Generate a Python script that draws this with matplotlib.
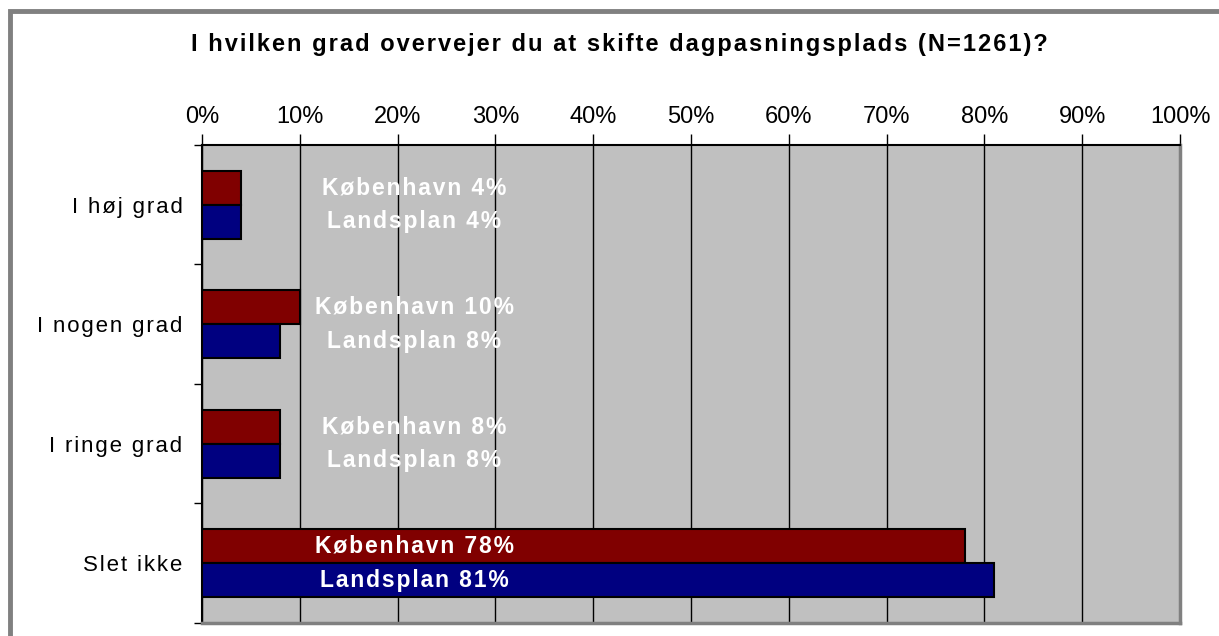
import matplotlib
matplotlib.use("Agg")
import numpy as np
import matplotlib.pyplot as plt
from matplotlib.patches import Rectangle

# data
categories = ["I høj grad", "I nogen grad", "I ringe grad", "Slet ikke"]
kbh = [4, 10, 8, 78]
lands = [4, 8, 8, 81]
title = "I hvilken grad overvejer du at skifte dagpasningsplads (N=1261)?"
tick_labels = [f"{v}%" for v in range(0, 101, 10)]

FONT = ['Liberation Sans', 'DejaVu Sans']
plt.rcParams['font.family'] = FONT

def spaced(s, sep='\u200a'):
    # fake the letter spacing of the original
    return sep.join(s)

fig = plt.figure(figsize=(12.19, 6.36), dpi=100)
ax = fig.add_axes([202/1219, 1-623/636, 978/1219, 478/636])
ax.set_facecolor('#c0c0c0')

y = np.arange(len(categories))
h = 0.283
ax.barh(y - h/2, kbh, height=h, color='#800000', edgecolor='black', linewidth=1.5, zorder=3)
ax.barh(y + h/2, lands, height=h, color='#000080', edgecolor='black', linewidth=1.5, zorder=3)

for i in range(len(categories)):
    ax.text(21.7, y[i] - h/2, spaced(f"København {kbh[i]}%"), color='white', fontsize=16.5,
            fontweight='bold', ha='center', va='center', zorder=4)
    ax.text(21.7, y[i] + h/2, spaced(f"Landsplan {lands[i]}%"), color='white', fontsize=16.5,
            fontweight='bold', ha='center', va='center', zorder=4)

ax.set_xlim(0, 100)
ax.set_ylim(3.5, -0.5)
ax.set_xticks(range(0, 101, 10))
ax.set_xticklabels(tick_labels, fontsize=17)
ax.xaxis.tick_top()
ax.tick_params(axis='x', length=8, width=1, pad=4, colors='black')
ax.grid(axis='x', color='black', linewidth=1, zorder=1)

ax.set_yticks(y)
ax.set_yticklabels([spaced(c) for c in categories], fontsize=16)
ax.set_yticks(np.arange(-0.5, 3.6, 1), minor=True)
ax.tick_params(axis='y', which='major', length=0, pad=14)
ax.tick_params(axis='y', which='minor', length=6, width=1)

ax.spines['top'].set_linewidth(1.5)
ax.spines['left'].set_linewidth(1.5)
ax.spines['right'].set_color('#808080')
ax.spines['right'].set_linewidth(2.5)
ax.spines['bottom'].set_color('#808080')
ax.spines['bottom'].set_linewidth(2.5)

fig.text(619/1219, 1-51/636, spaced(title), fontsize=17, fontweight='bold',
         ha='center', va='baseline')

# outer border, only left and top visible
fig.add_artist(Rectangle((10/1219, -0.1), 1.2, 1.1 - 11/636, transform=fig.transFigure,
                         fill=False, edgecolor='#808080', linewidth=3.5))

fig.savefig("out.png", dpi=100)
